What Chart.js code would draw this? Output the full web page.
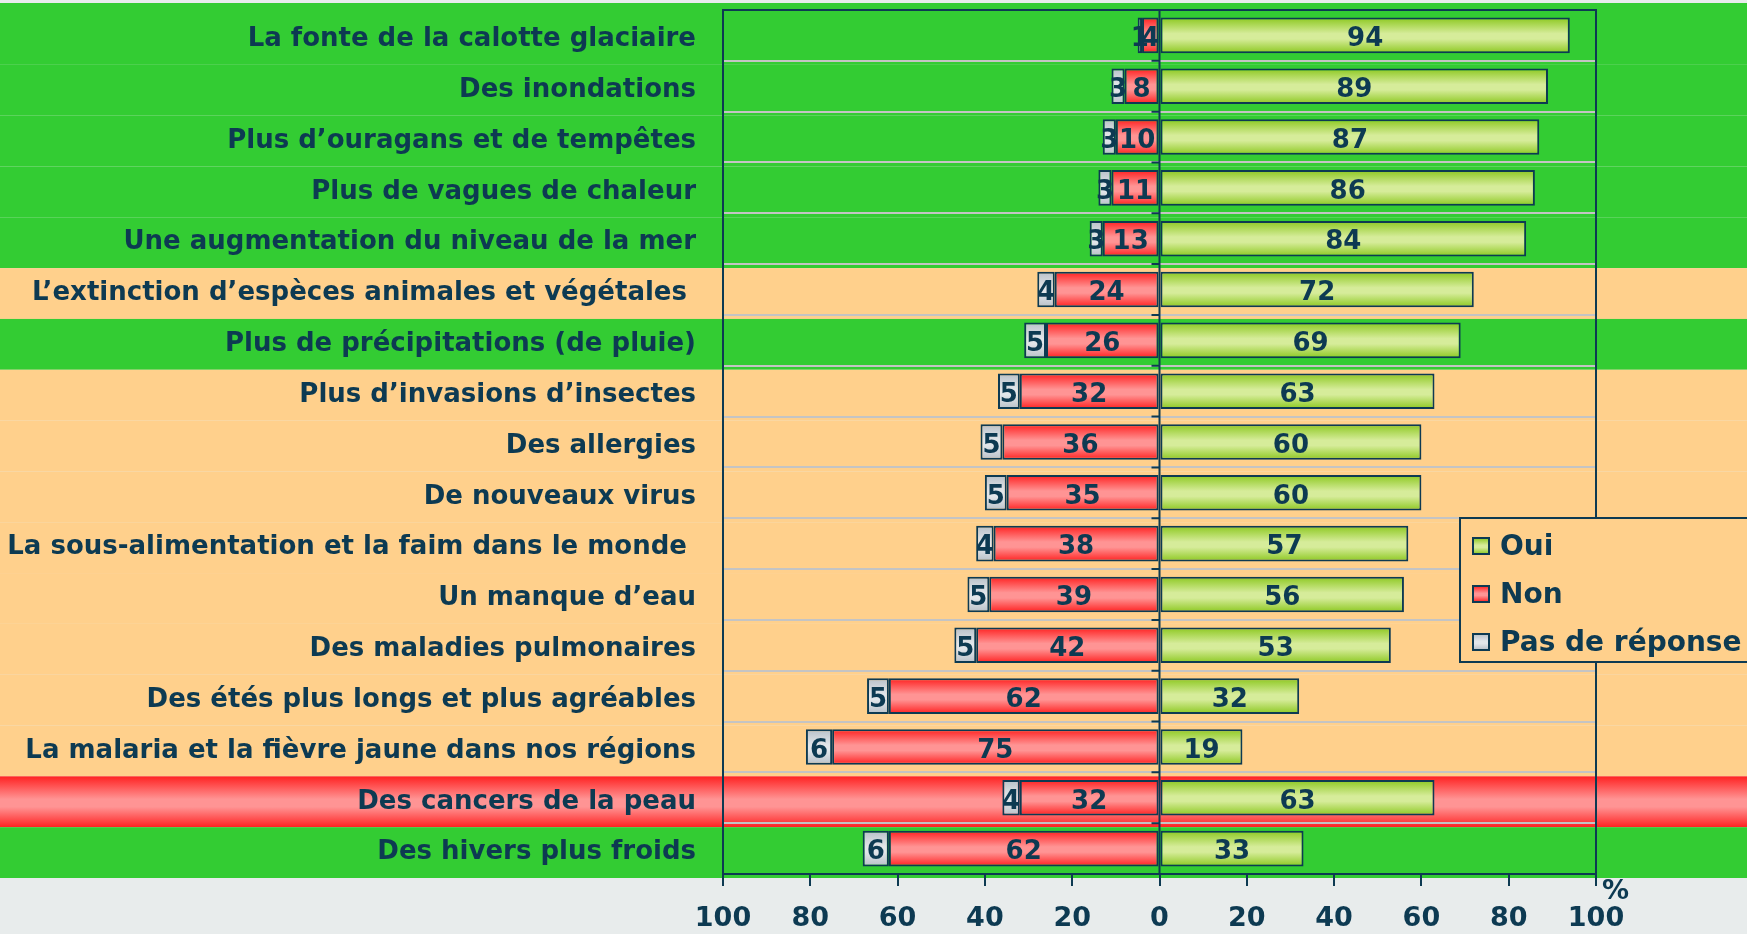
<!DOCTYPE html>
<html>
<head>
<meta charset="utf-8">
<script src="https://cdn.jsdelivr.net/npm/chart.js@4.4.0/dist/chart.umd.min.js"></script>
<style>
  html, body { margin: 0; padding: 0; background: #e8ecec; }
  #wrap { width: 1747px; height: 934px; }
</style>
</head>
<body>
<div id="wrap"><canvas id="climateChart" width="1747" height="934"></canvas></div>
<script>
// Chart data
const categories = [
    'La fonte de la calotte glaciaire',
    'Des inondations',
    'Plus d\u2019ouragans et de tempêtes',
    'Plus de vagues de chaleur',
    'Une augmentation du niveau de la mer',
    'L\u2019extinction d\u2019espèces animales et végétales ',
    'Plus de précipitations (de pluie)',
    'Plus d\u2019invasions d\u2019insectes',
    'Des allergies',
    'De nouveaux virus',
    'La sous-alimentation et la faim dans le monde ',
    'Un manque d\u2019eau',
    'Des maladies pulmonaires',
    'Des étés plus longs et plus agréables',
    'La malaria et la fièvre jaune dans nos régions',
    'Des cancers de la peau',
    'Des hivers plus froids'
];
const ouiValues = [94, 89, 87, 86, 84, 72, 69, 63, 60, 60, 57, 56, 53, 32, 19, 63, 33];
const nonValues = [4, 8, 10, 11, 13, 24, 26, 32, 36, 35, 38, 39, 42, 62, 75, 32, 62];
const sansReponseValues = [1, 3, 3, 3, 3, 4, 5, 5, 5, 5, 4, 5, 5, 5, 6, 4, 6];
// row highlight: g = green, o = orange, r = red
const rowBands = ['g', 'g', 'g', 'g', 'g', 'o', 'g', 'o', 'o', 'o', 'o', 'o', 'o', 'o', 'o', 'r', 'g'];

const NAVY = '#0d3a52';
const BAND_GREEN = '#33cc33';
const BAND_ORANGE = '#ffd08c';
const BG_GREY = '#e8ecec';
const FONT_FAMILY = '"DejaVu Sans", Verdana, sans-serif';
const BAR_PCT = 0.7;

// vertical gradient helper for a bar
function barGradient(ctx, top, bottom, edge, middle) {
    const g = ctx.createLinearGradient(0, top, 0, bottom);
    g.addColorStop(0, edge);
    g.addColorStop(0.45, middle);
    g.addColorStop(0.6, middle);
    g.addColorStop(1, edge);
    return g;
}

function barFill(edge, middle) {
    return (context) => {
        const chart = context.chart;
        const yScale = chart.scales.y;
        if (!chart.chartArea || !yScale || context.dataIndex === undefined) return middle;
        const cy = yScale.getPixelForValue(context.dataIndex);
        const half = (chart.chartArea.bottom - chart.chartArea.top) / categories.length * BAR_PCT / 2;
        return barGradient(chart.ctx, cy - half, cy + half, edge, middle);
    };
}

// Background row bands across the whole page
const bandsPlugin = {
    id: 'bands',
    beforeDraw(chart) {
        const { ctx, chartArea, scales } = chart;
        const rowH = (chartArea.bottom - chartArea.top) / categories.length;
        ctx.save();
        ctx.fillStyle = BG_GREY;
        ctx.fillRect(0, 0, chart.width, chart.height);
        rowBands.forEach((band, i) => {
            const cy = scales.y.getPixelForValue(i);
            let top = cy - rowH / 2 + 4;
            let bottom = cy + rowH / 2 + 4;
            if (i === 0) top = 3;
            if (band === 'g') ctx.fillStyle = BAND_GREEN;
            else if (band === 'o') ctx.fillStyle = BAND_ORANGE;
            else ctx.fillStyle = barGradient(ctx, top, bottom, '#ff2222', '#ff9494');
            ctx.fillRect(0, top, chart.width, bottom - top);
        });
        ctx.restore();
    }
};

// Value labels, plot frame, zero line, legend
const overlayPlugin = {
    id: 'overlay',
    afterDatasetsDraw(chart) {
        const { ctx, chartArea, scales } = chart;
        const rowH = (chartArea.bottom - chartArea.top) / categories.length;
        ctx.save();

        // zero line + small ticks
        const x0 = scales.x.getPixelForValue(0);
        ctx.strokeStyle = NAVY;
        ctx.lineWidth = 2;
        ctx.beginPath();
        ctx.moveTo(x0, chartArea.top);
        ctx.lineTo(x0, chartArea.bottom);
        for (let i = 1; i < categories.length; i++) {
            const yb = chartArea.top + rowH * i;
            ctx.moveTo(x0 - 8, yb);
            ctx.lineTo(x0, yb);
        }
        ctx.stroke();

        // frame
        ctx.strokeRect(chartArea.left, chartArea.top, chartArea.right - chartArea.left, chartArea.bottom - chartArea.top);

        // value labels
        ctx.font = 'bold 26px ' + FONT_FAMILY;
        ctx.fillStyle = NAVY;
        ctx.textAlign = 'center';
        ctx.textBaseline = 'middle';
        chart.data.datasets.forEach((ds, di) => {
            const meta = chart.getDatasetMeta(di);
            meta.data.forEach((bar, i) => {
                const v = Math.abs(ds.data[i]);
                ctx.fillText(String(v), (bar.x + bar.base) / 2, bar.y + 4);
            });
        });

        // % sign
        ctx.font = 'bold 27px ' + FONT_FAMILY;
        ctx.textAlign = 'left';
        ctx.fillText('%', chartArea.right + 6, chartArea.bottom + 18);

        // legend
        const lx = 1460, ly = 518, lw = 300, lh = 144;
        ctx.fillStyle = BAND_ORANGE;
        ctx.fillRect(lx, ly, lw, lh);
        ctx.strokeStyle = NAVY;
        ctx.lineWidth = 2;
        ctx.strokeRect(lx, ly, lw, lh);
        const legendSwatches = [
            ['#8cc820', '#d6ec9a'],
            ['#ff2020', '#ff9494'],
            ['#b8c0c8', '#e2e6ea']
        ];
        ctx.font = 'bold 28px ' + FONT_FAMILY;
        ctx.textBaseline = 'middle';
        chart.data.datasets.forEach((ds, di) => {
            const cy = ly + 28 + di * 48;
            ctx.fillStyle = barGradient(ctx, cy - 8, cy + 8, legendSwatches[di][0], legendSwatches[di][1]);
            ctx.fillRect(lx + 13, cy - 8, 16, 16);
            ctx.strokeRect(lx + 13, cy - 8, 16, 16);
            ctx.fillStyle = NAVY;
            ctx.fillText(ds.label, lx + 40, cy + 2);
        });
        ctx.restore();
    }
};

const chartCtx = document.getElementById('climateChart').getContext('2d');
new Chart(chartCtx, {
    type: 'bar',
    data: {
        labels: categories,
        datasets: [
            {
                label: 'Oui',
                data: ouiValues,
                backgroundColor: barFill('#8cc820', '#d6ec9a')
            },
            {
                label: 'Non',
                data: nonValues.map(v => -v),
                backgroundColor: barFill('#ff2020', '#ff9494')
            },
            {
                label: 'Pas de réponse',
                data: sansReponseValues.map(v => -v),
                backgroundColor: barFill('#b8c0c8', '#e2e6ea')
            }
        ]
    },
    options: {
        indexAxis: 'y',
        responsive: false,
        animation: false,
        layout: { padding: { top: 10, right: 151, left: 0, bottom: 0 } },
        datasets: {
            bar: {
                borderColor: NAVY,
                borderWidth: 2,
                borderSkipped: false,
                barPercentage: BAR_PCT,
                categoryPercentage: 1
            }
        },
        plugins: {
            legend: { display: false },
            tooltip: { enabled: false }
        },
        scales: {
            x: {
                stacked: true,
                min: -100,
                max: 100,
                ticks: {
                    stepSize: 20,
                    color: NAVY,
                    padding: 17,
                    maxRotation: 0,
                    font: { family: FONT_FAMILY, size: 27, weight: 'bold' },
                    callback: (v) => Math.abs(v)
                },
                grid: { drawOnChartArea: false, drawTicks: true, tickLength: 12, color: NAVY, lineWidth: 2 },
                border: { display: true, color: NAVY, width: 2 },
                afterFit: (s) => {
                    s.height = 60;
                    s.paddingLeft = 0;
                    s.paddingRight = 0;
                }
            },
            y: {
                stacked: true,
                ticks: {
                    color: NAVY,
                    padding: 27,
                    labelOffset: 4,
                    font: { family: FONT_FAMILY, size: 26, weight: 'bold' }
                },
                grid: { color: '#c4c4c4', lineWidth: 2, drawTicks: false },
                border: { display: true, color: NAVY, width: 2 },
                afterFit: (s) => {
                    s.width = 723;
                    s.paddingTop = 0;
                    s.paddingBottom = 0;
                }
            }
        }
    },
    plugins: [bandsPlugin, overlayPlugin]
});
</script>
</body>
</html>
